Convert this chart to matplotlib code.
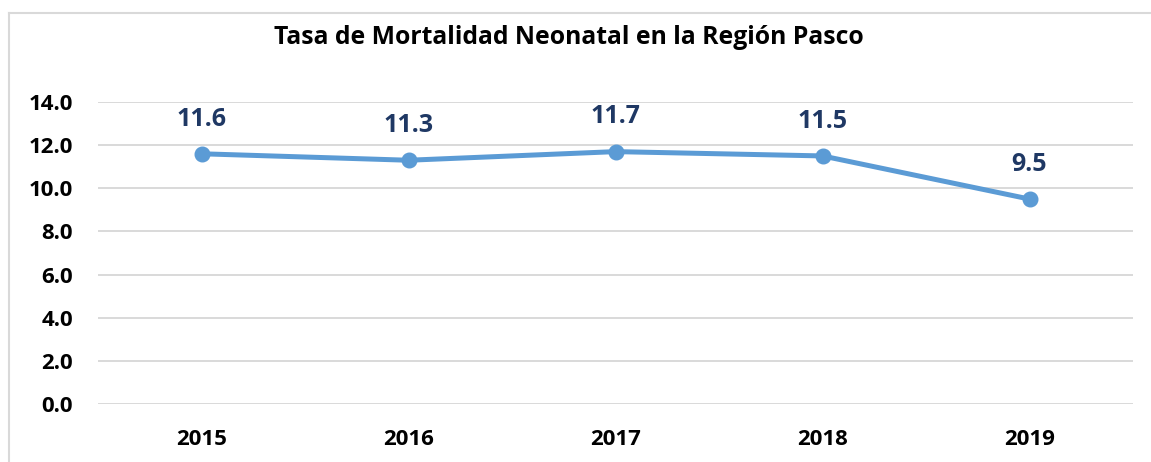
import matplotlib
matplotlib.use("Agg")
import matplotlib.pyplot as plt
from matplotlib.lines import Line2D

years = ["2015", "2016", "2017", "2018", "2019"]
rates = [11.6, 11.3, 11.7, 11.5, 9.5]
yticks = [0, 2, 4, 6, 8, 10, 12, 14]
title = "Tasa de Mortalidad Neonatal en la Región Pasco"

plt.rcParams['font.family'] = ['Open Sans', 'DejaVu Sans']

W, H = 1151, 462
fig = plt.figure(figsize=(W / 100, H / 100), dpi=100)
ax = fig.add_axes([98 / W, (H - 404) / H, (1133 - 98) / W, (404 - 102) / H])

x = list(range(len(years)))
ax.plot(x, rates, color="#5B9BD5", linewidth=3.6, marker="o", markersize=10.5,
        solid_capstyle="round", zorder=3)
for xi, v in zip(x, rates):
    ax.annotate(f"{v:.1f}", (xi, v), xytext=(0, 25), textcoords="offset points",
                ha="center", va="center", fontsize=18, fontweight="bold",
                color="#1F3864")

ax.set_xlim(-0.5, len(years) - 0.5)
ax.set_ylim(0, 14)
ax.set_yticks(yticks)
ax.set_yticklabels([f"{t:.1f}" for t in yticks])
ax.set_xticks(x)
ax.set_xticklabels(years)
ax.tick_params(axis="both", length=0, labelsize=16)
ax.tick_params(axis="y", pad=18)
ax.tick_params(axis="x", pad=18)
for lab in ax.get_xticklabels() + ax.get_yticklabels():
    lab.set_fontweight("bold")
    lab.set_color("black")
ax.grid(axis="y", color="#D9D9D9", linewidth=1.4)
ax.set_axisbelow(True)
for s in ax.spines.values():
    s.set_visible(False)

fig.text(569 / W, 1 - 38 / H, title, ha="center", va="center",
         fontsize=17.8, fontweight="bold", color="black")

fig.add_artist(Line2D([9 / W, 1], [1 - 13 / H, 1 - 13 / H], transform=fig.transFigure,
                      color="#D9D9D9", linewidth=1.5))
fig.add_artist(Line2D([9 / W, 9 / W], [0, 1 - 13 / H], transform=fig.transFigure,
                      color="#D9D9D9", linewidth=1.5))

fig.savefig("out.png", dpi=100, facecolor="white")
